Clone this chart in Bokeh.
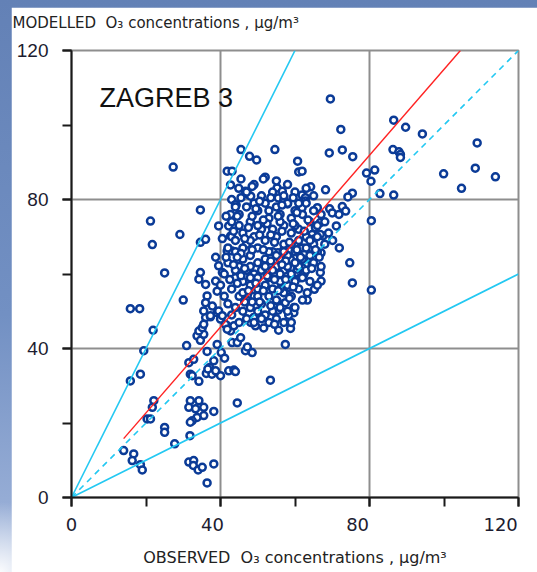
from bokeh.plotting import figure
from bokeh.layouts import column
from bokeh.models import Range1d, SingleIntervalTicker, FixedTicker, Title, Label, LinearAxis
from bokeh.embed import file_html
from bokeh.resources import INLINE

# Observed vs modelled O3 concentrations (µg/m³), station Zagreb 3
obs = [
    27.3, 45.5, 47.8, 49.7, 54.6, 60.7, 61.0, 41.8, 43.1, 42.7, 44.9, 46.7, 47.4, 48.1,
    55.2, 56.6, 55.5, 57.0, 58.0, 43.0, 44.2, 34.6, 69.5, 72.3, 69.2, 72.7, 75.5, 61.9,
    64.2, 68.2, 61.9, 62.8, 62.8, 75.4, 74.2, 61.9, 66.0, 69.3, 72.7, 86.5, 89.7, 94.2,
    86.3, 87.9, 88.3, 88.3, 79.2, 81.4, 80.4, 82.8, 86.5, 108.9, 99.9, 108.4, 113.8, 104.7,
    80.5, 80.5, 74.7, 75.4, 71.9, 70.1, 71.1, 67.0, 66.8, 67.0, 63.3, 63.3, 65.2, 59.7,
    59.7, 70.0, 71.8, 73.6, 64.2, 62.8, 62.4, 60.6, 61.5, 67.5, 65.5, 66.8, 64.6, 64.2,
    61.5, 62.4, 57.4, 55.6, 58.8, 58.3, 55.5, 53.4, 21.9, 19.4, 18.5, 15.8, 22.1, 21.7,
    20.3, 21.2, 14.0, 16.7, 16.3, 18.5, 19.0, 25.0, 25.0, 27.7, 31.8, 31.5, 32.8, 32.7,
    34.0, 35.1, 38.2, 36.4, 31.9, 34.2, 31.5, 33.3, 35.5, 38.2, 35.5, 33.7, 32.4, 31.9,
    44.5, 40.0, 42.2, 43.6, 44.0, 31.9, 32.4, 34.2, 36.2, 37.1, 37.7, 38.7, 38.2, 36.6,
    31.5, 32.8, 30.9, 39.1, 40.2, 41.1, 36.4, 33.7, 34.6, 35.5, 34.2, 35.1, 41.8, 42.7,
    43.1, 44.5, 45.4, 46.7, 48.5, 47.2, 48.1, 49.4, 51.6, 48.9, 36.0, 37.3, 39.1, 40.0,
    41.3, 41.8, 43.6, 35.5, 29.1, 21.7, 21.2, 34.6, 36.0, 39.5, 25.0, 30.0, 42.7, 44.0,
    42.2, 42.7, 41.8, 43.1, 38.7, 39.5, 40.5, 34.6, 34.2, 36.0, 38.7, 39.1, 36.4, 36.0,
    37.8, 39.5, 35.5, 37.3, 40.5, 15.8, 18.3, 55.4, 57.0, 58.8, 61.9, 62.4, 60.1, 58.3,
    57.0, 55.2, 57.4, 65.0, 62.4, 63.3, 66.8, 65.0,
    45, 47, 48, 50, 52, 53, 55, 56, 58, 59, 60, 62, 63, 64, 57, 54, 51, 49, 46, 47,
    50, 52, 55, 57, 59, 61, 63, 65, 66, 68, 69, 68, 66, 64, 62, 60, 58, 56, 54, 52,
    50, 48, 46, 45, 44, 47, 49, 51, 53, 55, 57, 59, 61, 63, 65, 67, 60, 58, 56, 54,
    52, 50, 48, 46, 44, 43, 45, 47, 49, 51, 53, 55, 57, 59, 61, 62, 60, 58, 56, 54,
    52, 50, 48, 46, 44, 42, 43, 45, 47, 49, 51, 53, 55, 57, 59, 44, 42, 41, 40, 41,
    42, 43, 45, 44, 46, 48, 50, 52, 54, 56, 58, 60, 62, 64, 66, 67, 65, 61, 57, 54,
    51, 49, 52, 55, 58, 60, 63, 65, 50, 48, 53, 55, 57, 59, 61, 63, 46, 48, 50, 56,
    62, 64, 66, 60, 56, 53, 49, 47, 44, 43,
    43.5, 44.5, 45.5, 46.5, 47.5, 48.5, 49.5, 50.5, 51.5, 52.5, 53.5, 54.5, 55.5, 56.5,
    57.5, 58.5, 59.5, 60.5, 61.5, 62.5, 63.5, 64.5, 65.5, 66.5, 49.5, 50.5, 51.5, 52.5,
    53.5, 54.5, 55.5, 56.5, 57.5, 58.5, 59.5, 47.5, 46.5, 45.5, 44.5, 43.5, 44.5, 45.5,
    48.5, 50.5, 53.5, 56.5, 59.5, 60.5, 53.5, 51.5, 48.5, 46.5, 42.5, 41.5, 40.5, 41.5,
    45.5, 51.5, 48.5, 54.5,
]
mod = [
    88.7, 93.4, 91.6, 90.6, 93.4, 90.3, 87.4, 87.6, 87.6, 83.9, 83.0, 82.2, 81.4, 80.9,
    83.1, 82.2, 80.4, 80.0, 78.8, 80.0, 78.5, 77.2, 107.0, 98.8, 92.5, 93.3, 91.5, 87.6,
    83.4, 82.6, 81.2, 80.5, 79.6, 81.7, 80.7, 77.8, 77.8, 77.5, 78.1, 101.3, 99.4, 97.6,
    93.4, 92.8, 92.1, 91.3, 87.1, 87.9, 84.9, 81.6, 81.2, 95.2, 86.9, 88.4, 86.1, 83.0,
    74.3, 55.7, 63.0, 57.6, 67.0, 69.0, 72.9, 65.7, 60.4, 58.1, 55.0, 53.0, 55.9, 51.0,
    49.6, 76.4, 76.0, 76.9, 63.9, 62.6, 60.6, 61.3, 59.0, 70.2, 72.4, 73.8, 70.6, 67.0,
    67.0, 66.2, 41.1, 44.9, 45.4, 48.9, 50.3, 31.5, 44.9, 39.4, 33.1, 31.3, 26.0, 24.2,
    21.1, 21.1, 12.6, 11.7, 9.9, 8.8, 7.4, 18.8, 17.5, 14.4, 16.6, 9.5, 9.9, 8.6,
    7.4, 8.1, 9.0, 3.9, 26.0, 26.0, 24.2, 23.8, 24.2, 23.1, 22.0, 21.5, 20.6, 20.2,
    25.4, 32.7, 34.0, 34.2, 33.8, 33.1, 32.7, 31.2, 33.3, 34.9, 33.1, 34.0, 36.7, 34.5,
    36.2, 37.1, 40.8, 41.1, 38.9, 37.4, 39.2, 43.4, 42.2, 43.8, 44.7, 45.6, 46.1, 44.7,
    41.6, 41.6, 42.9, 39.4, 38.9, 40.4, 47.0, 46.1, 45.5, 48.3, 48.3, 48.5, 49.6, 47.9,
    46.5, 45.2, 46.1, 46.5, 70.6, 67.9, 74.2, 68.5, 69.3, 72.9, 60.3, 53.0, 76.0, 78.6,
    72.9, 70.2, 66.2, 66.2, 64.5, 62.2, 60.4, 60.4, 58.6, 57.2, 58.1, 55.4, 54.1, 52.3,
    51.4, 50.1, 50.1, 48.8, 48.8, 50.7, 50.7, 65.7, 66.5, 63.9, 61.7, 59.9, 58.6, 56.4,
    55.0, 52.8, 52.3, 63.9, 65.3, 69.7, 70.6, 69.3,
    76, 78, 74, 77, 79, 75, 78, 76, 79, 75, 77, 76, 79, 74, 73, 72, 72, 70, 71, 68,
    67, 69, 70, 68, 71, 72, 70, 68, 73, 74, 71, 68, 66, 65, 64, 66, 65, 64, 66, 64,
    63, 65, 64, 62, 66, 61, 60, 61, 59, 62, 61, 60, 62, 61, 63, 62, 58, 57, 58, 56,
    57, 56, 57, 58, 59, 56, 54, 53, 54, 52, 54, 53, 55, 54, 56, 53, 51, 50, 51, 50,
    49, 50, 51, 50, 51, 52, 49, 47, 48, 47, 48, 47, 48, 47, 47, 61, 63, 60, 57, 54,
    67, 70, 73, 69, 67, 62, 59, 62, 61, 60, 62, 63, 67, 69, 70, 76, 77, 79, 81, 82,
    81, 84, 86, 85, 84, 82, 83, 81, 73, 69, 66, 65, 66, 68, 69, 67, 55, 59, 54, 56,
    59, 58, 57, 73, 74, 77, 79, 82, 78, 74,
    62.5, 57.5, 65.5, 69.5, 72.5, 75.5, 77.5, 70.5, 66.5, 73.5, 63.5, 68.5, 75.5, 71.5,
    63.5, 68.5, 73.5, 66.5, 64.5, 71.5, 74.5, 61.5, 66.5, 64.5, 57.5, 52.5, 55.5, 59.5,
    51.5, 58.5, 55.5, 62.5, 58.5, 53.5, 56.5, 55.5, 52.5, 59.5, 64.5, 71.5, 75.5, 80.5,
    83.5, 79.5, 80.5, 78.5, 80.5, 76.5, 70.5, 74.5, 66.5, 61.5, 58.5, 64.5, 69.5, 75.5,
    85.5, 85.5, 52.5, 46.5,
]

# Reference lines: factor-of-two band, 1:1 line and the fitted line
band_hi_x, band_hi_y = [0, 60], [0, 120]
band_lo_x, band_lo_y = [0, 120], [0, 60]
one_x, one_y = [0, 120], [0, 120]
fit_x, fit_y = [14.0, 104.4], [15.8, 120.0]

x_tick_text = ["0", "40", "80", "120"]

p = figure(
    width=526, height=565,
    x_range=Range1d(0, 120), y_range=Range1d(0, 120),
    output_backend="svg", toolbar_location=None,
    min_border_left=60, min_border_right=19, min_border_top=42, min_border_bottom=75,
    background_fill_color="white", border_fill_color="white",
)
p.margin = (7, 0, 0, 11)

tick_font_size = "18px"
for ax in (p.xaxis[0], p.yaxis[0]):
    ax.ticker = SingleIntervalTicker(interval=40, num_minor_ticks=2)
    ax.axis_line_color = "#1a1a1a"
    ax.axis_line_width = 2
    ax.major_tick_line_color = "#1a1a1a"
    ax.minor_tick_line_color = "#1a1a1a"
    ax.major_tick_line_width = 2
    ax.minor_tick_line_width = 2
    ax.major_tick_in = 0
    ax.major_tick_out = 9
    ax.minor_tick_in = 0
    ax.minor_tick_out = 9
    ax.major_label_text_color = "#1c1c30"

p.yaxis.major_label_text_font = "Liberation Sans"
p.yaxis.major_label_text_font_size = "19px"
p.yaxis.major_label_standoff = 14

# main x axis carries ticks only; the numbers go on a second, bare axis
p.xaxis.major_label_overrides = {0: "", 40: "", 80: "", 120: ""}
p.xaxis.major_label_standoff = 0

# label positions nudged a little left of their ticks
label_pos = [0.0, 37.85, 76.8, 115.2]
xlab = LinearAxis(
    ticker=FixedTicker(ticks=label_pos),
    major_label_overrides={v: t for v, t in zip(label_pos, x_tick_text)},
    axis_line_color=None, major_tick_line_color=None, minor_tick_line_color=None,
    major_tick_in=0, major_tick_out=0, minor_tick_in=0, minor_tick_out=0,
    major_label_standoff=11,
    major_label_text_font="DejaVu Sans", major_label_text_font_size=tick_font_size,
    major_label_text_color="#1c1c30",
    axis_label="OBSERVED\u00a0\u00a0O\u2083 concentrations\u00a0, \u00b5g/m\u00b3",
    axis_label_text_font="DejaVu Sans", axis_label_text_font_size="16px",
    axis_label_text_font_style="normal", axis_label_text_color="#222222",
    axis_label_standoff=14,
)
p.add_layout(xlab, "below")

for g in (p.xgrid[0], p.ygrid[0]):
    g.ticker = SingleIntervalTicker(interval=40)
    g.grid_line_color = "#8e8e8e"
    g.grid_line_width = 2
p.outline_line_color = "#8e8e8e"
p.outline_line_width = 2

# a blank spacer next to the frame lifts the y-axis caption to the top edge
p.add_layout(Title(text=" ", text_font_size="1px", standoff=11), "above")
p.add_layout(Title(
    text="MODELLED\u00a0\u00a0O\u2083 concentrations\u00a0, \u00b5g/m\u00b3",
    align="left", offset=-59, standoff=9,
    text_font="DejaVu Sans", text_font_size="15px",
    text_font_style="normal", text_color="#222222",
), "above")

p.scatter(obs, mod, marker="circle", size=7, fill_color="white",
          line_color="#0b3b97", line_width=2.5)

cyan = "#22c8f2"
p.line(band_hi_x, band_hi_y, line_color=cyan, line_width=1.6)
p.line(band_lo_x, band_lo_y, line_color=cyan, line_width=1.6)
p.line(one_x, one_y, line_color=cyan, line_width=1.6, line_dash="6 5")
p.line(fit_x, fit_y, line_color="#ff2222", line_width=1.4)

p.add_layout(Label(x=7.5, y=107.2, text="ZAGREB 3", text_font="Liberation Sans",
                   text_font_size="27px", text_color="#111111",
                   text_baseline="middle"))

page = column(p, styles={
    "background": "radial-gradient(circle at 0% 100%, rgba(255,255,255,0.95) 0px, "
                  "rgba(255,255,255,0) 70px), "
                  "linear-gradient(to bottom, #6381b6 0%, #7290c3 55%, #a3b7dc 100%)",
})

open("out.html", "w").write(file_html(page, INLINE))
